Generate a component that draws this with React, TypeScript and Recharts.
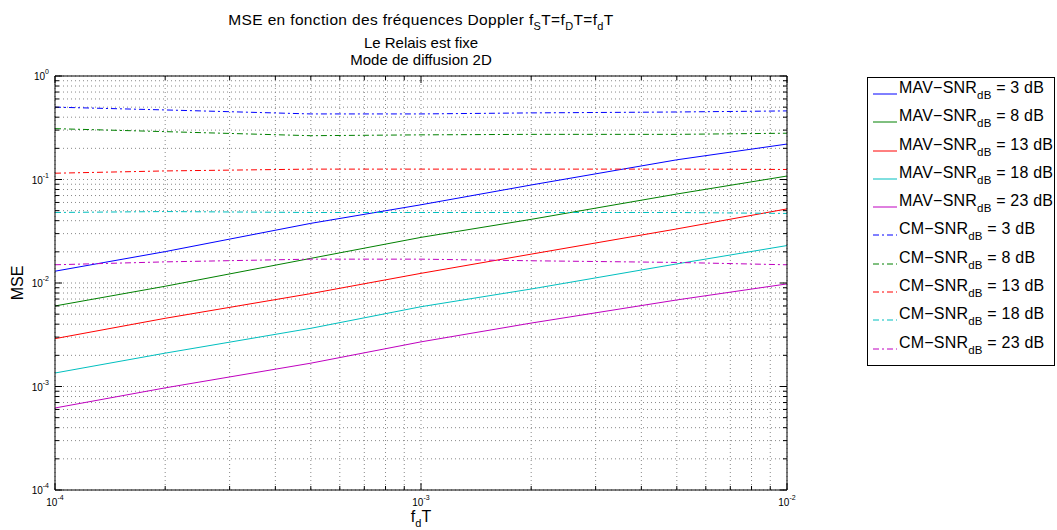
import React from "react";
import { LineChart, Line, XAxis, YAxis, CartesianGrid } from "recharts";

// normalized Doppler frequency f_d T
const fdT = [1e-4, 2e-4, 5e-4, 1e-3, 2e-3, 5e-3, 1e-2];

// MAV estimator
const mav3 = [0.013, 0.0201, 0.0377, 0.057, 0.0885, 0.155, 0.22];
const mav8 = [0.006, 0.0093, 0.0173, 0.0276, 0.0412, 0.0724, 0.108];
const mav13 = [0.0029, 0.00456, 0.0079, 0.0124, 0.019, 0.0333, 0.052];
const mav18 = [0.00135, 0.0021, 0.00365, 0.0059, 0.00875, 0.0153, 0.023];
const mav23 = [0.00062, 0.00097, 0.00168, 0.0027, 0.0041, 0.00686, 0.0098];

// CM estimator
const cm3 = [0.5, 0.47, 0.43, 0.43, 0.44, 0.449, 0.46];
const cm8 = [0.31, 0.29, 0.265, 0.27, 0.273, 0.273, 0.28];
const cm13 = [0.115, 0.121, 0.126, 0.126, 0.126, 0.126, 0.125];
const cm18 = [0.048, 0.049, 0.048, 0.048, 0.048, 0.048, 0.047];
const cm23 = [0.015, 0.016, 0.017, 0.017, 0.0164, 0.0158, 0.015];

const snrLabels = ["3", "8", "13", "18", "23"];

const xTicks = [
  1e-4, 2e-4, 3e-4, 4e-4, 5e-4, 6e-4, 7e-4, 8e-4, 9e-4,
  1e-3, 2e-3, 3e-3, 4e-3, 5e-3, 6e-3, 7e-3, 8e-3, 9e-3, 1e-2,
];
const yTicks = [
  1e-4, 2e-4, 3e-4, 4e-4, 5e-4, 6e-4, 7e-4, 8e-4, 9e-4,
  1e-3, 2e-3, 3e-3, 4e-3, 5e-3, 6e-3, 7e-3, 8e-3, 9e-3,
  1e-2, 2e-2, 3e-2, 4e-2, 5e-2, 6e-2, 7e-2, 8e-2, 9e-2,
  1e-1, 2e-1, 3e-1, 4e-1, 5e-1, 6e-1, 7e-1, 8e-1, 9e-1, 1,
];
const majorTicks = [1e-4, 1e-3, 1e-2, 1e-1, 1];

const colors = ["#0000ff", "#008000", "#ff0000", "#00bfbf", "#bf00bf"];
const mavSeries = [mav3, mav8, mav13, mav18, mav23];
const cmSeries = [cm3, cm8, cm13, cm18, cm23];

type Series = { key: string; prefix: string; snr: string; color: string; dash?: string };

const series: Series[] = [
  ...snrLabels.map((s, i) => ({ key: "mav" + s, prefix: "MAV", snr: s, color: colors[i] })),
  ...snrLabels.map((s, i) => ({ key: "cm" + s, prefix: "CM", snr: s, color: colors[i], dash: "6 3 2 3" })),
];

const data = fdT.map((x, i) => {
  const row: Record<string, number> = { x };
  snrLabels.forEach((s, k) => {
    row["mav" + s] = mavSeries[k][i];
    row["cm" + s] = cmSeries[k][i];
  });
  return row;
});

const FONT = "'Liberation Sans', Arial, Helvetica, sans-serif";

const isMajor = (v: number) => majorTicks.some((m) => Math.abs(v - m) / m < 1e-6);
const expOf = (v: number) => Math.round(Math.log10(v));

// MATLAB style ticks: drawn inward, labels only on decades
const LeftTick = ({ x, y, payload }: any) => {
  const major = isMajor(payload.value);
  return (
    <g>
      <line x1={x} x2={x + (major ? 7 : 4)} y1={y} y2={y} stroke="#000" />
      {major && (
        <text x={x - 6} y={y + 4} textAnchor="end" fontSize={10} fontFamily={FONT} fill="#000">
          10<tspan dy={-6} fontSize={7}>{expOf(payload.value)}</tspan>
        </text>
      )}
    </g>
  );
};

const RightTick = ({ x, y, payload }: any) => {
  const major = isMajor(payload.value);
  return <line x1={x} x2={x - (major ? 7 : 4)} y1={y} y2={y} stroke="#000" />;
};

const BottomTick = ({ x, y, payload }: any) => {
  const major = isMajor(payload.value);
  return (
    <g>
      <line x1={x} x2={x} y1={y} y2={y - (major ? 7 : 4)} stroke="#000" />
      {major && (
        <text x={x} y={y + 16} textAnchor="middle" fontSize={10} fontFamily={FONT} fill="#000">
          10<tspan dy={-6} fontSize={7}>{expOf(payload.value)}</tspan>
        </text>
      )}
    </g>
  );
};

const TopTick = ({ x, y, payload }: any) => {
  const major = isMajor(payload.value);
  return <line x1={x} x2={x} y1={y} y2={y + (major ? 7 : 4)} stroke="#000" />;
};

const Legend = () => (
  <div
    style={{
      position: "absolute",
      left: 867,
      top: 77,
      width: 186,
      height: 286,
      border: "1px solid #000",
      background: "#fff",
      fontFamily: FONT,
      fontSize: 16,
      paddingTop: 1,
      boxSizing: "content-box",
    }}
  >
    {series.map((s) => (
      <div key={s.key} style={{ position: "relative", height: 28.3 }}>
        <svg width={26} height={28} style={{ position: "absolute", left: 4, top: 0 }}>
          <line x1={1} x2={25} y1={15} y2={15} stroke={s.color} strokeWidth={1} strokeDasharray={s.dash} />
        </svg>
        <div style={{ position: "absolute", left: 31, top: 0, whiteSpace: "nowrap", lineHeight: "18px", letterSpacing: 0.2 }}>
          {s.prefix}−SNR<sub style={{ fontSize: 11.5, verticalAlign: "-6px", lineHeight: 0 }}>dB</sub> = {s.snr} dB
        </div>
      </div>
    ))}
  </div>
);

const subStyle = { fontSize: 11, verticalAlign: "-5px", lineHeight: 0 };
const titleLine = { position: "absolute" as const, left: 0, width: 842, textAlign: "center" as const, lineHeight: "17px" };

export default function App() {
  return (
    <div style={{ position: "absolute", left: 0, top: 0, width: 1057, height: 530, background: "#fff" }}>
      <div style={{ fontFamily: FONT, fontSize: 15 }}>
        <div style={{ ...titleLine, top: 11, fontSize: 15.5, letterSpacing: 0.35 }}>
          MSE en fonction des fréquences Doppler f<sub style={subStyle}>S</sub>T=f<sub style={subStyle}>D</sub>T=f
          <sub style={subStyle}>d</sub>T
        </div>
        <div style={{ ...titleLine, top: 34 }}>Le Relais est fixe</div>
        <div style={{ ...titleLine, top: 51 }}>Mode de diffusion 2D</div>
      </div>
      <LineChart width={1057} height={530} data={data} margin={{ top: 75, right: 269, bottom: 39, left: 54 }}>
        <CartesianGrid stroke="#888" strokeDasharray="1 3" />
        <XAxis
          dataKey="x"
          type="number"
          scale="log"
          domain={[1e-4, 1e-2]}
          allowDataOverflow
          ticks={xTicks}
          interval={0}
          height={1}
          tickSize={0}
          tickMargin={0}
          tickLine={false}
          axisLine={{ stroke: "#000" }}
          tick={<BottomTick />}
        />
        <XAxis
          xAxisId="top"
          orientation="top"
          dataKey="x"
          type="number"
          scale="log"
          domain={[1e-4, 1e-2]}
          allowDataOverflow
          ticks={xTicks}
          interval={0}
          height={1}
          tickSize={0}
          tickMargin={0}
          tickLine={false}
          axisLine={{ stroke: "#000" }}
          tick={<TopTick />}
        />
        <YAxis
          type="number"
          scale="log"
          domain={[1e-4, 1]}
          allowDataOverflow
          ticks={yTicks}
          interval={0}
          width={1}
          tickSize={0}
          tickMargin={0}
          tickLine={false}
          axisLine={{ stroke: "#000" }}
          tick={<LeftTick />}
        />
        <YAxis
          yAxisId="right"
          orientation="right"
          type="number"
          scale="log"
          domain={[1e-4, 1]}
          allowDataOverflow
          ticks={yTicks}
          interval={0}
          width={1}
          tickSize={0}
          tickMargin={0}
          tickLine={false}
          axisLine={{ stroke: "#000" }}
          tick={<RightTick />}
        />
        {series.map((s) => (
          <Line
            key={s.key}
            dataKey={s.key}
            type="linear"
            stroke={s.color}
            strokeWidth={1}
            strokeDasharray={s.dash}
            dot={false}
            isAnimationActive={false}
          />
        ))}
      </LineChart>
      <div style={{ position: "absolute", left: 0, width: 842, top: 510, textAlign: "center", fontFamily: FONT, fontSize: 16, lineHeight: "14px" }}>
        f<sub style={subStyle}>d</sub>T
      </div>
      <div
        style={{
          position: "absolute",
          left: 18,
          top: 283,
          transform: "translate(-50%, -50%) rotate(-90deg)",
          fontFamily: FONT,
          fontSize: 16,
        }}
      >
        MSE
      </div>
      <Legend />
    </div>
  );
}
